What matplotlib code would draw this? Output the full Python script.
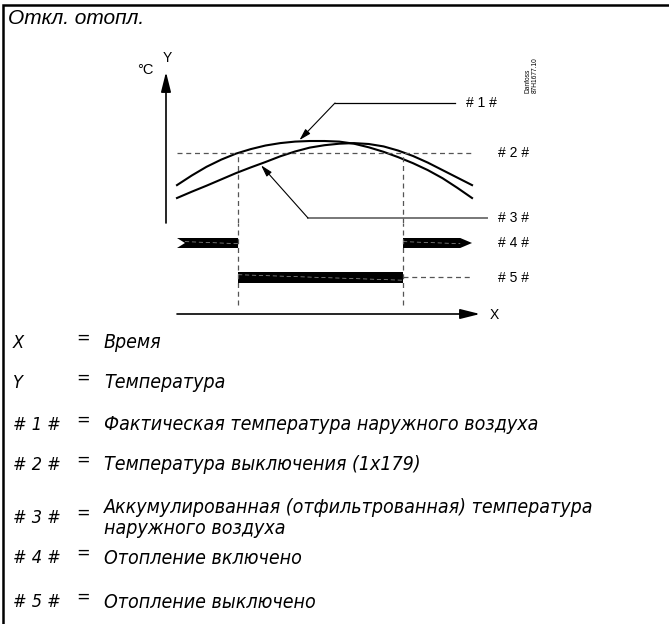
import numpy as np
import matplotlib
matplotlib.use("Agg")
import matplotlib.pyplot as plt

# time axis of the diagram (arbitrary units) and the two temperature curves
time = np.arange(0, 10.5, 0.5)
actual_temp = [5.3, 8.5, 11.4, 13.8, 15.8, 17.3, 18.5, 19.3, 19.8, 20.0, 20.0,
               19.8, 19.1, 17.9, 16.4, 14.6, 12.6, 10.3, 7.6, 4.4, 1.0]
accum_temp = [1.0, 3.1, 5.1, 7.2, 9.3, 11.2, 13.0, 14.9, 16.5, 17.8, 18.6,
              19.1, 19.3, 19.0, 18.2, 16.8, 15.0, 12.8, 10.3, 7.8, 5.3]
cutout_temp = 16.0
switch_times = [2.07, 7.66]      # heating off / heating on again
t_end = 10.0

title = "Откл. отопл."
marker_labels = ["# 1 #", "# 2 #", "# 3 #", "# 4 #", "# 5 #"]
legend_keys = ["X", "Y", "# 1 #", "# 2 #", "# 3 #", "# 4 #", "# 5 #"]
legend_texts = ["Время",
                "Температура",
                "Фактическая температура наружного воздуха",
                "Температура выключения (1x179)",
                "Аккумулированная (отфильтрованная) температура\nнаружного воздуха",
                "Отопление включено",
                "Отопление выключено"]

W, H = 669, 624
fig = plt.figure(figsize=(W / 100, H / 100), dpi=100)

frame = fig.add_axes([0, 0, 1, 1])
frame.set_xlim(0, W)
frame.set_ylim(H, 0)
frame.axis("off")


def box(x0, y0, x1, y1):
    return [x0 / W, 1 - y1 / H, (x1 - x0) / W, (y1 - y0) / H]


ax = fig.add_axes(box(166, 72, 480, 223))
sx = fig.add_axes(box(166, 223, 480, 314), sharex=ax)
ax.set_xlim(-0.373, 10.27)
ax.set_ylim(-7.33, 43)
sx.set_ylim(-1.06, 1.58)
for a in (ax, sx):
    a.axis("off")
    a.patch.set_alpha(0)

# border (top and left only)
frame.plot([3, 3, W], [H, 5, 5], color="black", lw=1.8, solid_joinstyle="miter")
frame.text(8, 19, title, fontsize=15, style="italic", family="Liberation Sans",
           va="center", ha="left")

dash = dict(color="#555555", lw=0.9, ls=(0, (4, 3)))

# curves and cut-out temperature
ax.plot(time, actual_temp, color="black", lw=1.5)
ax.plot(time, accum_temp, color="black", lw=1.5)
ax.hlines(cutout_temp, 0, t_end, **dash)
ax.vlines(switch_times, -7.33, cutout_temp, **dash)
sx.vlines(switch_times, -0.8, 1.58, **dash)

# y axis arrow
ax.annotate("", xy=(0, 1), xycoords="axes fraction", xytext=(0, 0),
            arrowprops=dict(arrowstyle="-|>,head_length=1.2,head_width=0.3",
                            lw=1.2, color="black", shrinkA=0, shrinkB=0))
# x axis arrow
sx.annotate("", xy=(1, 0), xycoords="axes fraction", xytext=(0, 0),
            textcoords=("data", "axes fraction"),
            arrowprops=dict(arrowstyle="-|>,head_length=1.2,head_width=0.3",
                            lw=1.2, color="black", shrinkA=0, shrinkB=0))

# heating on (row 1) and heating off (row 0)
h_on, h_off = 0.145, 0.16
notch, tip = 0.27, 0.4
t0, t1 = switch_times
sx.fill([0, t0, t0, 0, notch], [1 - h_on, 1 - h_on, 1 + h_on, 1 + h_on, 1],
        color="black", lw=0)
sx.fill([t1, t_end - tip, t_end, t_end - tip, t1],
        [1 - h_on, 1 - h_on, 1, 1 + h_on, 1 + h_on], color="black", lw=0)
sx.barh(0, t1 - t0, left=t0, height=2 * h_off, color="black")
# faint scan streaks inside the bars
streak = dict(color="#9a9a9a", lw=0.5, ls=(0, (6, 4)))
sx.plot([notch, t0], [1.04, 0.98], **streak)
sx.plot([t1, t_end - tip], [1.04, 0.98], **streak)
sx.plot([t0, t1], [0.08, -0.08], **streak)
sx.hlines(0, t1, t_end, **dash)

# leaders
arrow = dict(arrowstyle="-|>,head_length=0.7,head_width=0.2", lw=0.8,
             color="black", shrinkA=0, shrinkB=0)
frame.plot([335, 455], [103, 103], color="black", lw=0.9)
ax.annotate("", xy=(4.15, 20.3), xytext=(335, 103), textcoords=frame.transData,
            arrowprops=arrow)
frame.plot([308, 487], [218, 218], color="#777777", lw=1.4)
ax.annotate("", xy=(2.85, 11.9), xytext=(308, 218), textcoords=frame.transData,
            arrowprops=arrow)

lab = dict(fontsize=10, family="Liberation Sans", va="center", ha="left")
for y, s in zip([103, 153, 218, 243, 278], marker_labels):
    x = 466 if s == "# 1 #" else 498
    frame.text(x, y, s, **lab)
frame.text(153, 70, "°C", fontsize=10.5, family="Liberation Sans", va="center", ha="right")
frame.text(167, 58, "Y", fontsize=10, family="Liberation Sans", va="center", ha="center")
frame.text(490, 315, "X", fontsize=10, family="Liberation Sans", va="center", ha="left")
frame.text(528, 93, "Danfoss", fontsize=4.8, family="Liberation Sans", rotation=90,
           va="bottom", ha="center")
frame.text(535, 93, "87H1677.10", fontsize=4.8, family="Liberation Sans", rotation=90,
           va="bottom", ha="center")

# legend
leg = dict(fontsize=14, style="italic", family="DejaVu Sans", stretch="condensed",
           ha="left", va="center", linespacing=1.12)
for y, k, s in zip([343, 383, 425, 465, 518, 558, 602], legend_keys, legend_texts):
    frame.text(13, y, k, **dict(leg, fontsize=13))
    frame.text(83, y - 5, "=", fontsize=13, family="DejaVu Sans", stretch="condensed",
               ha="center", va="center")
    frame.text(104, y, s, **leg)

fig.savefig("out.png", dpi=100)
